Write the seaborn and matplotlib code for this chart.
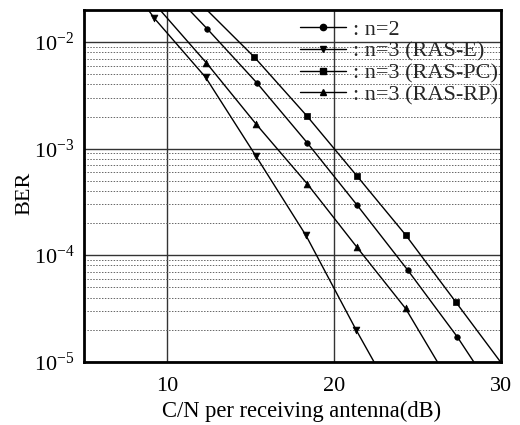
import numpy as np
import pandas as pd
import matplotlib
matplotlib.use("Agg")
import matplotlib.pyplot as plt
from matplotlib.lines import Line2D
from matplotlib.ticker import LogLocator, FixedLocator
import seaborn as sns

# ---- data ----
labels = [": n=2", ": n=3 (RAS-E)", ": n=3 (RAS-PC)", ": n=3 (RAS-RP)"]
markers = ["o", "v", "s", "^"]

# measured points (markers)
x_n2 = [12.37, 15.37, 18.37, 21.38, 24.42, 27.38]
y_n2 = [1.34e-2, 4.13e-3, 1.14e-3, 2.94e-4, 7.2e-5, 1.71e-5]
x_rase = [9.22, 12.29, 15.31, 18.31, 21.32]
y_rase = [1.67e-2, 4.67e-3, 8.5e-4, 1.53e-4, 1.98e-5]
x_raspc = [15.21, 18.37, 21.38, 24.28, 27.28]
y_raspc = [7.23e-3, 2.02e-3, 5.5e-4, 1.55e-4, 3.65e-5]
x_rasrp = [12.33, 15.33, 18.37, 21.34, 24.28]
y_rasrp = [6.4e-3, 1.69e-3, 4.7e-4, 1.2e-4, 3.16e-5]

# curve end points where each fitted curve leaves the plot
x_start = [11.31, 8.86, 12.37, 9.56]
y_start = [2.0e-2, 2.0e-2, 2.0e-2, 2.0e-2]
x_end = [28.36, 22.38, 29.96, 26.18]
y_end = [1.0e-5, 1.0e-5, 1.0e-5, 1.0e-5]

xs = [x_n2, x_rase, x_raspc, x_rasrp]
ys = [y_n2, y_rase, y_raspc, y_rasrp]

x_ticks = [10, 20, 30]
x_lim = (5, 30)
y_lim = (1e-5, 2e-2)

# ---- style ----
sns.set_theme(style="white")
plt.rcParams["font.family"] = ["Liberation Serif", "DejaVu Serif"]
plt.rcParams["mathtext.fontset"] = "custom"
plt.rcParams["mathtext.rm"] = "Liberation Serif"
plt.rcParams["mathtext.it"] = "Liberation Serif:italic"
plt.rcParams["mathtext.bf"] = "Liberation Serif:bold"
plt.rcParams["axes.unicode_minus"] = False

fig = plt.figure(figsize=(5.2, 4.25), dpi=100)
ax = fig.add_axes([84 / 520, 1 - 361.7 / 425, 417 / 520, 351.7 / 425])

marker_sizes = [16, 24, 18, 24]
for i in range(4):
    lx = [x_start[i]] + xs[i] + [x_end[i]]
    ly = [y_start[i]] + ys[i] + [y_end[i]]
    sns.lineplot(x=lx, y=ly, ax=ax, color="black", linewidth=1.0,
                 sort=False, estimator=None, zorder=3)
    sns.scatterplot(x=xs[i], y=ys[i], ax=ax, marker=markers[i], color="black",
                    s=marker_sizes[i], edgecolor="black", linewidth=0.5, zorder=4)

ax.set_yscale("log")
ax.set_xlim(*x_lim)
ax.set_ylim(*y_lim)
ax.xaxis.set_major_locator(FixedLocator(x_ticks))
ax.yaxis.set_major_locator(LogLocator(base=10, numticks=10))
ax.yaxis.set_minor_locator(LogLocator(base=10, subs=np.arange(2, 10), numticks=20))

# grids
ax.grid(True, which="major", axis="y", color="#333333", linewidth=1.0, linestyle="-")
ax.grid(True, which="minor", axis="y", color="#666666", linewidth=0.7, linestyle=(0, (1.5, 1.5)))
ax.grid(True, which="major", axis="x", color="#333333", linewidth=1.0, linestyle="-")
ax.set_axisbelow(True)

for sp in ax.spines.values():
    sp.set_visible(True)
    sp.set_color("black")
    sp.set_linewidth(2.0)

ax.tick_params(axis="both", which="both", length=0, labelsize=16, colors="black")
ax.tick_params(axis="x", pad=11)
ax.tick_params(axis="y", pad=7)
ax.set_xlabel("C/N per receiving antenna(dB)", fontsize=16.3, color="black")
ax.xaxis.set_label_coords((302 - 84) / 417, -(401 - 361.7) / 351.7)
ax.set_ylabel("BER", fontsize=16, color="black")
ax.yaxis.set_label_coords((34 - 84) / 417, 1 - (193 - 10) / 351.7)

handles = [Line2D([0], [0], color="black", lw=1.0, marker=m, markersize=4.5,
                  markerfacecolor="black", markeredgecolor="black") for m in markers]
leg = ax.legend(handles, labels, loc="upper right", bbox_to_anchor=(0.993, 0.973),
                frameon=False, fontsize=16, handlelength=2.1, handletextpad=0.3,
                labelspacing=0.05, borderaxespad=0, borderpad=0)

fig.savefig("out.png", dpi=100)
